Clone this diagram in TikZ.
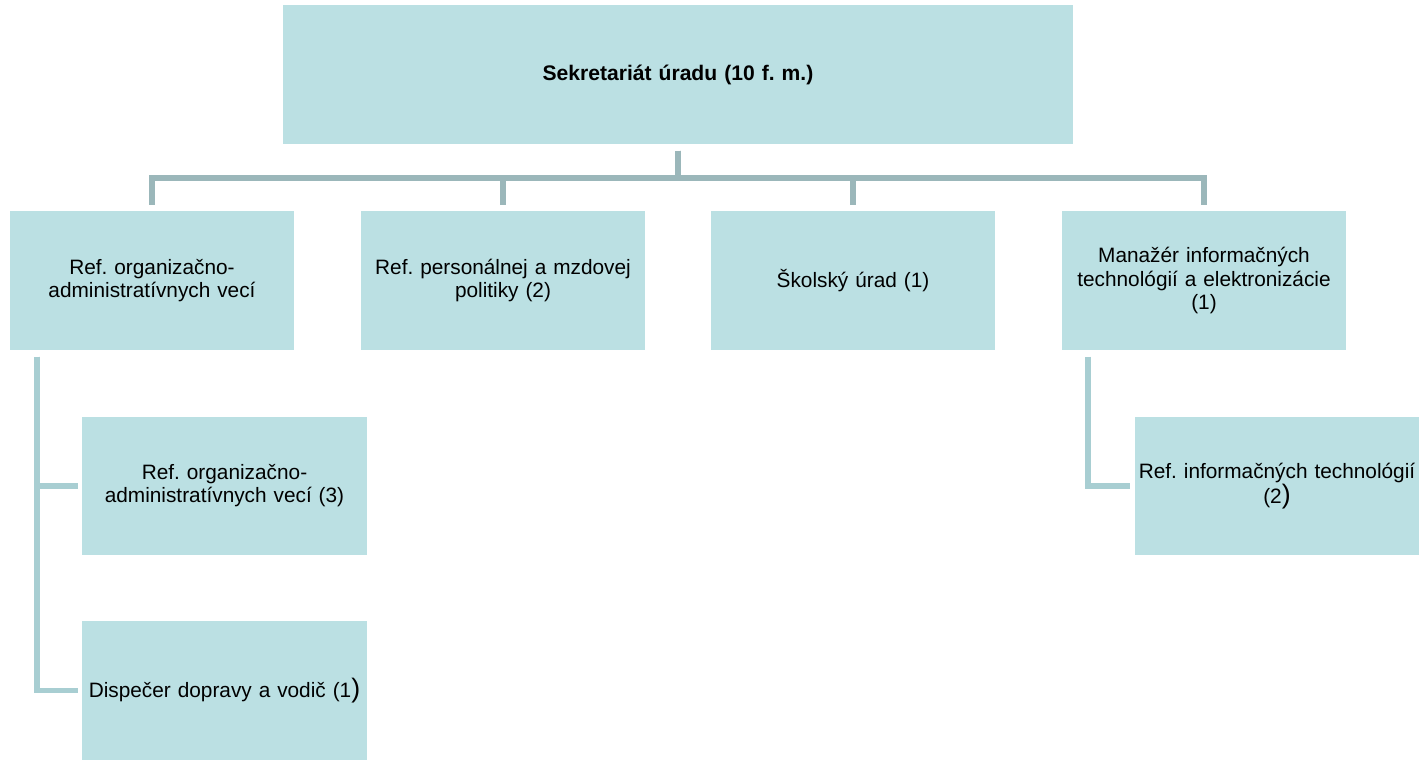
\documentclass[tikz,border=0pt]{standalone}
\usepackage{fontspec}
\setmainfont{Liberation Sans}
\definecolor{boxfill}{HTML}{BBE0E3}
\definecolor{barcol}{HTML}{9BB7BA}
\definecolor{subcol}{HTML}{A8CED2}
\newcommand{\bigpar}{{\fontsize{19}{16}\selectfont)}}
\frenchspacing
\begin{document}
\begin{tikzpicture}[x=0.025cm,y=-0.025cm,
  unit/.style={fill=boxfill,inner sep=0pt,outer sep=0pt,minimum width=7.1cm,minimum height=3.46cm,
    text width=7cm,align=center,font=\fontsize{14.8}{16.4}\selectfont},
  bar/.style={barcol,line width=4.3pt,shorten <=0.17cm,shorten >=0.15cm},
  sub/.style={subcol,line width=3.8pt,shorten >=0.12cm}]
\useasboundingbox (0,0) rectangle (1426,759);
\path
(678,74.5)   node[unit,minimum width=19.75cm,text width=19cm,font=\bfseries\fontsize{15}{17}\selectfont] (sek) {Sekretariát úradu (10 f. m.)}
(152,280.5)  node[unit] (org)  {Ref. organizačno-\\administratívnych vecí}
(503,280.5)  node[unit] (pers) {Ref. personálnej a mzdovej\\politiky (2)}
(853,280.5)  node[unit] (skol) {Školský úrad (1)}
(1204,280.5) node[unit] (man)  {Manažér informačných\\technológií a elektronizácie\\(1)}
(224.5,486)  node[unit] (org2) {Ref. organizačno-\\administratívnych vecí (3)}
(224.5,690.5) node[unit] (disp) {Dispečer dopravy a vodič (1\bigpar}
(1277,486)   node[unit] (it)   {Ref. informačných technológií\\(2\bigpar};

\draw[bar] (sek.south) -- ++(0,34) -| (org.north);
\draw[bar] (sek.south) -- ++(0,34) -| (pers.north);
\draw[bar] (sek.south) -- ++(0,34) -| (skol.north);
\draw[bar] (sek.south) -- ++(0,34) -| (man.north);

\coordinate (orgl) at ([shift={(27,7)}]org.south west);
\coordinate (manl) at ([shift={(26,7)}]man.south west);
\draw[sub] (orgl) |- (org2.west);
\draw[sub] (orgl) |- (disp.west);
\draw[sub] (manl) |- (it.west);
\end{tikzpicture}
\end{document}
